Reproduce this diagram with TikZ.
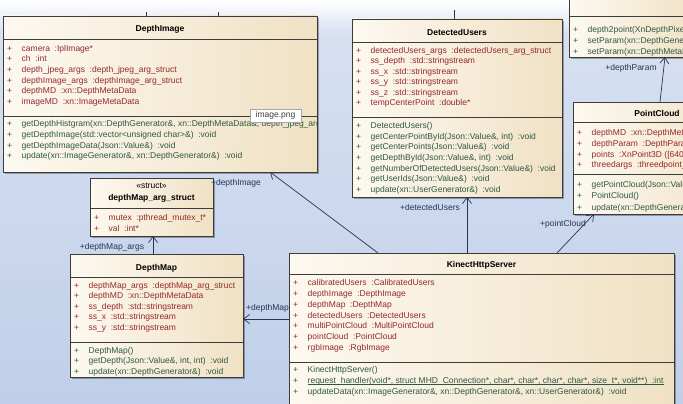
\documentclass[tikz,border=0pt]{standalone}
\usepackage{fontspec}
\setmainfont{Liberation Sans}
\usetikzlibrary{arrows.meta,shadows,calc}
\definecolor{acol}{RGB}{150,40,40}
\definecolor{mcol}{RGB}{45,88,68}
\definecolor{lcol}{RGB}{40,52,85}
\definecolor{bgA}{RGB}{214,224,241}
\definecolor{bgB}{RGB}{192,207,233}
\definecolor{fillL}{RGB}{253,249,240}
\definecolor{fillR}{RGB}{240,225,196}
\definecolor{edge}{RGB}{60,60,60}
\newcommand\ft{\fontsize{8.5}{10}\selectfont}
\newcommand\cl{\hspace{4.7pt}:}
\newcount\rowc
\newcommand\urow[4]{%
  \global\advance\rowc by 1
  \node[plus, text=#3] (p\the\rowc) at ({#1+6.5},#2) {+};
  \node[rowtxt, text=#3] (r\the\rowc) at ({#1+18.5},#2) {#4};}
\newcommand\ubox[5]{%
  \node[umlbox, minimum width={#4-#2}, minimum height={#5-#3}] (#1) at (#2,#3) {};}
\begin{document}
\begin{tikzpicture}[x=1pt,y=-1pt,
  umlbox/.style={draw=edge, line width=0.7pt, left color=fillL, right color=fillR,
    drop shadow={shadow xshift=2pt,shadow yshift=-2pt,opacity=0.3,fill=black},
    inner sep=0pt, outer sep=0pt, anchor=north west},
  sepl/.style={draw=edge, line width=0.6pt},
  rowtxt/.style={anchor=west, inner sep=0pt, font=\ft, text height=6pt, text depth=1.8pt},
  plus/.style={anchor=center, inner sep=0pt, font=\ft, text height=6pt, text depth=1.8pt},
  ttl/.style={inner sep=0pt, font=\ft\bfseries, text height=6pt, text depth=1.8pt},
  lbl/.style={inner sep=0.5pt, font=\ft, text=lcol, text height=6pt, text depth=1.8pt},
  assoc/.style={draw=lcol, line width=0.7pt, -{Straight Barb[length=6pt,width=9pt]}},
  tick/.style={draw=lcol, line width=0.7pt},
  uline/.style={draw=mcol, line width=0.5pt},
  tipbox/.style={draw=gray!70, fill=white, inner sep=0pt, minimum width=51pt, minimum height=13pt, font=\ft, text=black!75}
]
\useasboundingbox (0,0) rectangle (683,404);
\clip (0,0) rectangle (683,404);
% background
\shade[top color=white, bottom color=bgA] (0,0) rectangle (683,35);
\shade[top color=bgA, bottom color=bgB] (0,35) rectangle (683,404);

% ---------- DepthImage ----------
\ubox{DI}{3}{16}{317}{172}
\node[ttl] (DIt) at (160,29) {DepthImage};
\draw[sepl] (3,39) -- (317,39);
\draw[sepl] (3,116) -- (317,116);
\urow{3}{49}{acol}{camera\cl IplImage*}
\urow{3}{59.5}{acol}{ch\cl int}
\urow{3}{70}{acol}{depth\_jpeg\_args\cl depth\_jpeg\_arg\_struct}
\urow{3}{81}{acol}{depthImage\_args\cl depthImage\_arg\_struct}
\urow{3}{91.5}{acol}{depthMD\cl xn::DepthMetaData}
\urow{3}{102}{acol}{imageMD\cl xn::ImageMetaData}
\begin{scope}
\clip (3,118) rectangle (316,130);
\urow{3}{124.5}{mcol}{getDepthHistgram(xn::DepthGenerator\&, xn::DepthMetaData\&, depth\_jpeg\_arg\_struct}
\end{scope}
\urow{3}{135}{mcol}{getDepthImage(std::vector<unsigned char>\&)\cl void}
\urow{3}{146}{mcol}{getDepthImageData(Json::Value\&)\cl void}
\urow{3}{156.5}{mcol}{update(xn::ImageGenerator\&, xn::DepthGenerator\&)\cl void}

% ---------- DetectedUsers ----------
\ubox{DU}{352}{19}{562}{197}
\node[ttl] (DUt) at (457,33) {DetectedUsers};
\draw[sepl] (352,42) -- (562,42);
\draw[sepl] (352,117) -- (562,117);
\urow{352}{51}{acol}{detectedUsers\_args\cl detectedUsers\_arg\_struct}
\urow{352}{61.5}{acol}{ss\_depth\cl std::stringstream}
\urow{352}{72}{acol}{ss\_x\cl std::stringstream}
\urow{352}{82.5}{acol}{ss\_y\cl std::stringstream}
\urow{352}{93}{acol}{ss\_z\cl std::stringstream}
\urow{352}{103.5}{acol}{tempCenterPoint\cl double*}
\urow{352}{126}{mcol}{DetectedUsers()}
\urow{352}{137}{mcol}{getCenterPointById(Json::Value\&, int)\cl void}
\urow{352}{147.5}{mcol}{getCenterPoints(Json::Value\&)\cl void}
\urow{352}{158}{mcol}{getDepthById(Json::Value\&, int)\cl void}
\urow{352}{169}{mcol}{getNumberOfDetectedUsers(Json::Value\&)\cl void}
\urow{352}{179.5}{mcol}{getUserIds(Json::Value\&)\cl void}
\urow{352}{190.5}{mcol}{update(xn::UserGenerator\&)\cl void}

% ---------- top right (partial) ----------
\ubox{TR}{569}{-5}{700}{57}
\draw[sepl] (569,16) -- (700,16);
\urow{569}{30}{mcol}{depth2point(XnDepthPixel*, int, int)\cl void}
\urow{569}{41}{mcol}{setParam(xn::DepthGenerator\&)\cl void}
\urow{569}{52}{mcol}{setParam(xn::DepthMetaData\&)\cl void}

% ---------- PointCloud ----------
\ubox{PC}{573}{102}{741}{214}
\node[ttl] (PCt) at (657,114) {PointCloud};
\draw[sepl] (573,122) -- (741,122);
\draw[sepl] (573,174) -- (741,174);
\urow{573}{133}{acol}{depthMD\cl xn::DepthMetaData}
\urow{573}{144}{acol}{depthParam\cl DepthParam}
\urow{573}{155}{acol}{points\cl XnPoint3D ([640*480])}
\urow{573}{165.5}{acol}{threedargs\cl threedpoint\_args}
\urow{573}{185}{mcol}{getPointCloud(Json::Value\&)\cl void}
\urow{573}{196.5}{mcol}{PointCloud()}
\urow{573}{208}{mcol}{update(xn::DepthGenerator\&)\cl void}

% ---------- depthMap_arg_struct ----------
\ubox{ST}{90}{178}{213}{236}
\node[ttl, font=\ft] (STs) at (151.5,186.5) {«struct»};
\node[ttl] (STt) at (151.5,198.5) {depthMap\_arg\_struct};
\draw[sepl] (90,208) -- (213,208);
\urow{90}{218}{acol}{mutex\cl pthread\_mutex\_t*}
\urow{90}{229}{acol}{val\cl int*}

% ---------- DepthMap ----------
\ubox{DM}{70}{254}{243}{377}
\node[ttl] (DMt) at (156.5,268) {DepthMap};
\draw[sepl] (70,277) -- (243,277);
\draw[sepl] (70,342) -- (243,342);
\urow{70}{286}{acol}{depthMap\_args\cl depthMap\_arg\_struct}
\urow{70}{296.5}{acol}{depthMD\cl xn::DepthMetaData}
\urow{70}{307}{acol}{ss\_depth\cl std::stringstream}
\urow{70}{317.5}{acol}{ss\_x\cl std::stringstream}
\urow{70}{328}{acol}{ss\_y\cl std::stringstream}
\urow{70}{351}{mcol}{DepthMap()}
\urow{70}{361.5}{mcol}{getDepth(Json::Value\&, int, int)\cl void}
\urow{70}{372}{mcol}{update(xn::DepthGenerator\&)\cl void}

% ---------- KinectHttpServer ----------
\ubox{KHS}{289}{253}{674}{412}
\node[ttl] (KHSt) at (481.5,265) {KinectHttpServer};
\draw[sepl] (289,274) -- (674,274);
\draw[sepl] (289,362) -- (674,362);
\urow{289}{283}{acol}{calibratedUsers\cl CalibratedUsers}
\urow{289}{294}{acol}{depthImage\cl DepthImage}
\urow{289}{305}{acol}{depthMap\cl DepthMap}
\urow{289}{316}{acol}{detectedUsers\cl DetectedUsers}
\urow{289}{326.5}{acol}{multiPointCloud\cl MultiPointCloud}
\urow{289}{337.5}{acol}{pointCloud\cl PointCloud}
\urow{289}{348}{acol}{rgbImage\cl RgbImage}
\urow{289}{370.5}{mcol}{KinectHttpServer()}
\urow{289}{381}{mcol}{request\_handler(void*, struct MHD\_Connection*, char*, char*, char*, char*, size\_t*, void**)\cl int}
\draw[uline] ($(r\the\rowc.base west)+(0,1.4)$) -- ($(r\the\rowc.base east)+(0,1.4)$);
\urow{289}{392}{mcol}{updateData(xn::ImageGenerator\&, xn::DepthGenerator\&, xn::UserGenerator\&)\cl void}

% ---------- connectors ----------
\draw[assoc] ($(KHS.north west)+(89,0)$) -- ($(DI.south west)+(267,0)$);
\draw[assoc] ($(KHS.north west)+(178,0)$) -- ($(DU.south west)+(115,0)$);
\draw[assoc] ($(KHS.north west)+(268,0)$) -- ($(PC.south west)+(21,0)$);
\draw[assoc] ($(KHS.north west)+(0,66)$) -- ($(DM.north east)+(0,65)$);
\draw[assoc] ($(DM.north west)+(83,0)$) -- ($(ST.south west)+(63,0)$);
\draw[assoc] ($(PC.north west)+(87,0)$) -- ($(TR.south west)+(96,0)$);
% short connector stubs leaving the top edge
\coordinate (s1) at ($(DI.north west)+(143,-4)$);
\coordinate (s2) at ($(DI.north west)+(215,-4)$);
\coordinate (s3) at ($(DU.north west)+(102,-9)$);
\draw[tick] ($(DI.north west)+(143,0)$) -- (s1);
\draw[tick] ($(DI.north west)+(215,0)$) -- (s2);
\draw[tick] ($(DU.north west)+(102,0)$) -- (s3);

% ---------- labels ----------
\node[lbl] (L1) at (236,183) {+depthImage};
\node[lbl] (L2) at (112,247) {+depthMap\_args};
\node[lbl] (L3) at (267.5,308) {+depthMap};
\node[lbl] (L4) at (430,208) {+detectedUsers};
\node[lbl] (L5) at (563,224) {+pointCloud};
\node[lbl] (L6) at (631,68) {+depthParam};

% ---------- tooltip ----------
\node[tipbox] (tt) at (275.5,115.5) {image.png};
\end{tikzpicture}
\end{document}
